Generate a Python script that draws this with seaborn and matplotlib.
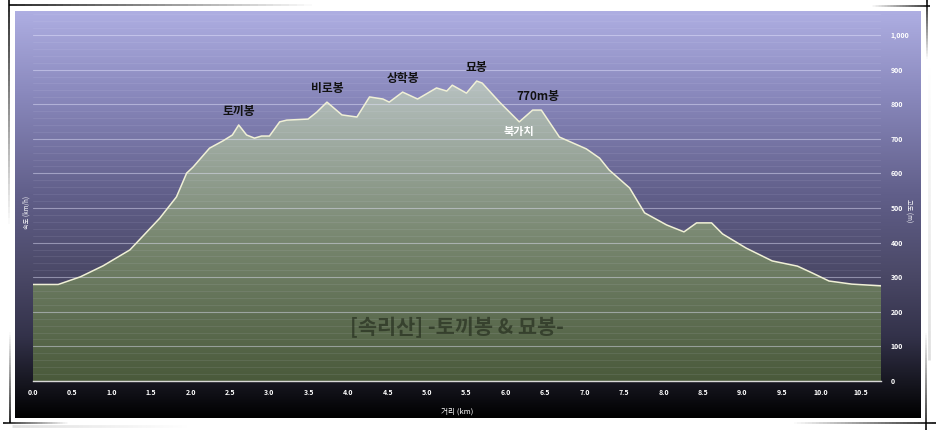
import numpy as np
import pandas as pd
import matplotlib
matplotlib.use("Agg")
import matplotlib.pyplot as plt
import seaborn as sns
from matplotlib.colors import LinearSegmentedColormap
from matplotlib.collections import LineCollection
from matplotlib.ticker import MultipleLocator, FuncFormatter

# ---------------- data ----------------
distance_km = [0, 0.32, 0.6, 0.89, 1.23, 1.61, 1.82, 1.95, 2.03, 2.24, 2.41, 2.53, 2.61, 2.71,
               2.81, 2.9, 3.0, 3.13, 3.22, 3.49, 3.6, 3.73, 3.92, 4.11, 4.27, 4.44, 4.52, 4.69,
               4.88, 5.12, 5.25, 5.32, 5.5, 5.63, 5.7, 5.92, 6.17, 6.34, 6.45, 6.68, 7.02, 7.19,
               7.31, 7.57, 7.76, 8.04, 8.26, 8.42, 8.61, 8.75, 9.05, 9.38, 9.7, 9.89, 10.1,
               10.39, 10.76]
elevation_m = [279, 279, 301, 333, 379, 471, 532, 601, 618, 673, 694, 711, 740, 711, 702, 708,
               708, 749, 754, 757, 777, 806, 769, 763, 821, 815, 806, 835, 815, 847, 838, 855,
               832, 867, 861, 806, 749, 783, 783, 705, 671, 644, 610, 558, 486, 451, 431, 457,
               457, 425, 384, 347, 332, 312, 289, 280, 275]

peak_names = ["토끼봉", "비로봉", "상학봉", "묘봉", "770m봉"]
peak_km = [2.61, 3.73, 4.69, 5.63, 6.40]
pass_names = ["북가치"]
pass_km = [6.17]

x_ticks = [0.0, 0.5, 1.0, 1.5, 2.0, 2.5, 3.0, 3.5, 4.0, 4.5, 5.0, 5.5, 6.0, 6.5, 7.0, 7.5,
           8.0, 8.5, 9.0, 9.5, 10.0, 10.5]
y_ticks = [0, 100, 200, 300, 400, 500, 600, 700, 800, 900, 1000]

title_text = "[속리산] -토끼봉 & 묘봉-"
x_label = "거리 (km)"
left_label = "속도 (km/h)"
right_label = "고도 (m)"

df = pd.DataFrame({"km": distance_km, "elev": elevation_m})

# ---------------- style ----------------
sns.set_theme(style="white")
plt.rcParams["font.family"] = ["Noto Sans CJK KR", "DejaVu Sans"]

W, H = 936, 430
fig = plt.figure(figsize=(W / 100, H / 100), dpi=100)
fig.patch.set_facecolor("white")

def fx(px):
    return px / W

def fy(py):
    return 1 - py / H

# background panel with gradient
bg = fig.add_axes([fx(15), fy(418), fx(921 - 15), (418 - 11) / H], zorder=0)
bg_cmap = LinearSegmentedColormap.from_list(
    "bg", [(0.0, "#000000"), (0.08, "#15151e"), (0.2, "#33324a"), (0.35, "#4a4866"),
           (0.55, "#615f8a"), (0.8, "#8a89bd"), (1.0, "#aeaee2")])
grad = np.linspace(0, 1, 256).reshape(-1, 1)
bg.imshow(grad, aspect="auto", cmap=bg_cmap, origin="lower", extent=[0, 1, 0, 1])
bg.set_axis_off()

# main axes
x_max = 10.76
ax = fig.add_axes([fx(33), fy(381), fx(881 - 33), (381 - 14) / H], zorder=1)
ax.patch.set_alpha(0)
ax.set_xlim(0, x_max)
ax.set_ylim(0, 367 / 0.346)

# filled area with gradient
poly = ax.fill_between(df["km"], df["elev"], 0, facecolor="none", edgecolor="none")
fill_cmap = LinearSegmentedColormap.from_list(
    "fill", [(0.0, "#4a5a3b"), (0.45, "#76856d"), (1.0, "#b9c3c3")])
fgrad = np.linspace(0, 1, 256).reshape(-1, 1)
im = ax.imshow(fgrad, aspect="auto", cmap=fill_cmap, origin="lower",
               extent=[0, x_max, 0, 880], zorder=1)
im.set_clip_path(poly.get_paths()[0], transform=ax.transData)

# profile line
sns.lineplot(data=df, x="km", y="elev", ax=ax, color="#f0f0d6", linewidth=1.1,
             zorder=3, legend=False)

# grid
ax.yaxis.set_major_locator(MultipleLocator(100))
ax.yaxis.set_minor_locator(MultipleLocator(20))
ax.set_axisbelow("line")
ax.grid(axis="y", which="major", color="#e8e8ff", alpha=0.45, linewidth=0.8)
ax.grid(axis="y", which="minor", color="#e8e8ff", alpha=0.10, linewidth=0.6)
ax.grid(axis="x", visible=False)

# axes styling
for s in ["top", "left", "right"]:
    ax.spines[s].set_visible(False)
ax.spines["bottom"].set_color("#d8d8d8")
ax.spines["bottom"].set_linewidth(1.0)
ax.set_xticks(x_ticks)
ax.xaxis.set_major_formatter(FuncFormatter(lambda v, p: f"{v:.1f}"))
ax.tick_params(axis="x", colors="#e0e0e0", length=4, width=0.8, pad=2,
               labelsize=5, labelcolor="white")
for lab in ax.get_xticklabels():
    lab.set_fontweight("bold")
ax.yaxis.tick_right()
ax.set_yticks(y_ticks)
ax.yaxis.set_major_formatter(FuncFormatter(lambda v, p: f"{int(v):,}"))
ax.tick_params(axis="y", which="both", length=0, pad=7, labelsize=5, labelcolor="white")
for lab in ax.get_yticklabels():
    lab.set_fontweight("bold")
ax.set_xlabel(x_label, color="white", fontsize=5.5, labelpad=8)
ax.set_ylabel("")

# peak labels
for name, k in zip(peak_names, peak_km):
    e = float(np.interp(k, distance_km, elevation_m))
    ax.annotate(name, xy=(k, e), xytext=(0, 5), textcoords="offset points",
                ha="center", va="bottom", fontsize=8.5, fontweight="bold",
                color="#111111", zorder=5)
for name, k in zip(pass_names, pass_km):
    e = float(np.interp(k, distance_km, elevation_m))
    ax.annotate(name, xy=(k, e), xytext=(0, -2), textcoords="offset points",
                ha="center", va="top", fontsize=8, fontweight="bold",
                color="white", zorder=5)

# watermark title
ax.text(0.5, 0.145, title_text, transform=ax.transAxes, ha="center", va="center",
        fontsize=15, fontweight="bold", color="#232b1c", alpha=0.65, zorder=4)

# side labels
fig.text(fx(27), fy(212), left_label, rotation=90, ha="center", va="center",
         fontsize=4.5, color="white")
fig.text(fx(908), fy(211), right_label, rotation=270, ha="center", va="center",
         fontsize=4.5, color="white")

# decorative corner lines
def fade_line(x0, y0, x1, y1, lw=1.2, a0=0.9, a1=0.0, color=(0, 0, 0)):
    n = 40
    xs = np.linspace(fx(x0), fx(x1), n + 1)
    ys = np.linspace(fy(y0), fy(y1), n + 1)
    segs = [[(xs[i], ys[i]), (xs[i + 1], ys[i + 1])] for i in range(n)]
    alphas = np.linspace(a0, a1, n)
    cols = [(*color, a) for a in alphas]
    lc = LineCollection(segs, colors=cols, linewidths=lw, transform=fig.transFigure,
                        zorder=10)
    fig.add_artist(lc)

fade_line(9, 5, 320, 5, lw=1.3)
fade_line(9, 0, 9, 230, lw=1.3)
fade_line(10, 423, 10, 330, lw=1.3)
fade_line(3, 423, 70, 423, lw=1.3)
fade_line(12, 426, 190, 426, lw=2, a0=0.25, color=(0.5, 0.5, 0.5))
fade_line(926, 430, 926, 330, lw=1.3)
fade_line(936, 423, 790, 423, lw=1.3)
fade_line(930, 6, 870, 6, lw=1.3)
fade_line(927, 0, 927, 60, lw=1.3)
fade_line(929, 60, 929, 360, lw=2, a0=0.0, a1=0.25, color=(0.5, 0.5, 0.5))

fig.savefig("out.png", dpi=100, facecolor=fig.get_facecolor())
